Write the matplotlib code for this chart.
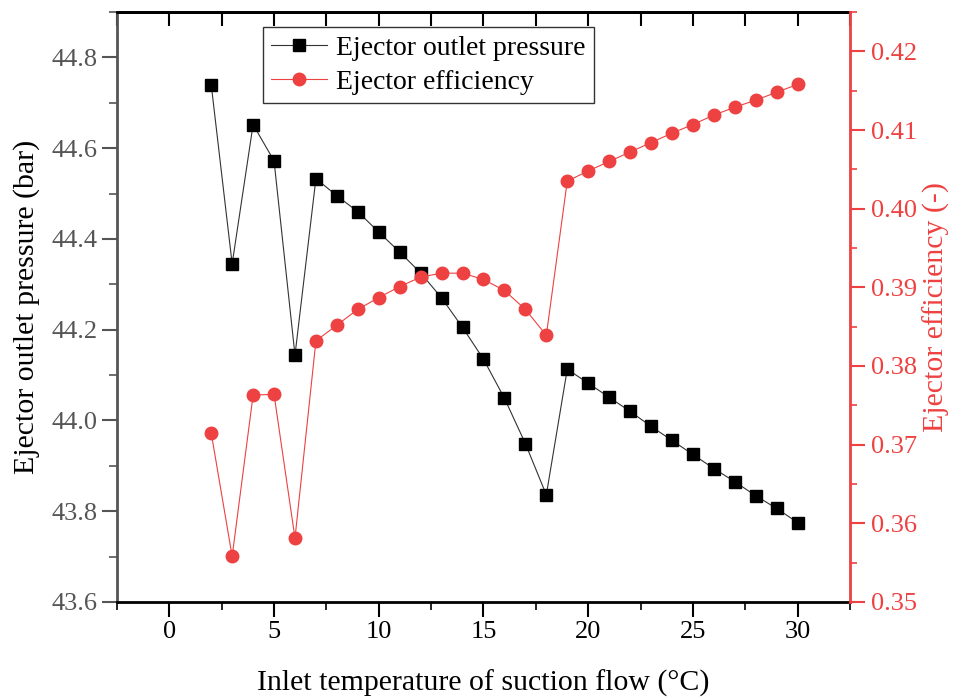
import matplotlib
matplotlib.use("Agg")
import matplotlib.pyplot as plt
from matplotlib.ticker import MultipleLocator, FormatStrFormatter, NullFormatter

plt.rcParams['font.family'] = ['Liberation Serif', 'DejaVu Serif']

temperature = [2, 3, 4, 5, 6, 7, 8, 9, 10, 11, 12, 13, 14, 15, 16,
               17, 18, 19, 20, 21, 22, 23, 24, 25, 26, 27, 28, 29, 30]
outlet_pressure = [44.740, 44.345, 44.652, 44.572, 44.144, 44.533, 44.495,
                   44.460, 44.415, 44.371, 44.325, 44.270, 44.205, 44.135,
                   44.049, 43.949, 43.836, 44.113, 44.082, 44.051, 44.020,
                   43.987, 43.956, 43.925, 43.894, 43.865, 43.834, 43.806,
                   43.775]
efficiency = [0.3715, 0.3558, 0.3763, 0.3764, 0.3581, 0.3832, 0.3852,
              0.3872, 0.3887, 0.3901, 0.3913, 0.3918, 0.3918, 0.3910,
              0.3896, 0.3872, 0.3839, 0.4035, 0.4048, 0.4060, 0.4072,
              0.4084, 0.4096, 0.4107, 0.4119, 0.4129, 0.4138, 0.4148,
              0.4158]

red = '#ee4141'
gray = '#555555'

fig = plt.figure(figsize=(9.54, 6.99), dpi=100)
ax = fig.add_axes([0.1226, 0.1388, 0.7684, 0.8440])
ax2 = ax.twinx()

l1, = ax.plot(temperature, outlet_pressure, color='#333333', lw=0.8,
              marker='s', markersize=8, markerfacecolor='black',
              markeredgecolor='black', label='Ejector outlet pressure')
l2, = ax2.plot(temperature, efficiency, color=red, lw=0.8,
               marker='o', markersize=9, markerfacecolor=red,
               markeredgecolor=red, label='Ejector efficiency')

ax.set_xlim(-2.5, 32.5)
ax.set_ylim(43.6, 44.9)
ax2.set_ylim(0.35, 0.425)

ax.xaxis.set_major_locator(MultipleLocator(5))
ax.xaxis.set_minor_locator(MultipleLocator(2.5))
ax.yaxis.set_major_locator(MultipleLocator(0.2))
ax.yaxis.set_minor_locator(MultipleLocator(0.1))
ax.yaxis.set_major_formatter(FormatStrFormatter('%.1f'))
ax2.yaxis.set_major_locator(MultipleLocator(0.01))
ax2.yaxis.set_minor_locator(MultipleLocator(0.005))
ax2.yaxis.set_major_formatter(FormatStrFormatter('%.2f'))

ax.tick_params(axis='x', which='both', direction='out', top=False,
               labelsize=19, colors='black', pad=3)
ax.tick_params(axis='x', which='major', length=11, width=1.5)
ax.tick_params(axis='x', which='minor', length=6, width=1.2)
ax.tick_params(axis='y', which='both', direction='out', labelsize=19,
               colors=gray, pad=3)
ax.tick_params(axis='y', which='major', length=11, width=1.5)
ax.tick_params(axis='y', which='minor', length=6, width=1.2)
ax2.tick_params(axis='y', which='both', direction='out', labelsize=19,
                colors=red, pad=4)
ax2.tick_params(axis='y', which='major', length=11, width=1.5)
ax2.tick_params(axis='y', which='minor', length=5, width=1.2)

# inward ticks along the top edge, no labels
top = ax.secondary_xaxis('top')
top.xaxis.set_major_locator(MultipleLocator(5))
top.xaxis.set_minor_locator(MultipleLocator(2.5))
top.xaxis.set_major_formatter(NullFormatter())
top.tick_params(axis='x', which='both', direction='in', length=10,
                width=1.5, colors='black')
top.spines['top'].set_linewidth(2.0)

for side in ['top', 'bottom']:
    ax.spines[side].set_linewidth(2.0)
    ax.spines[side].set_color('black')
ax.spines['left'].set_linewidth(2.0)
ax.spines['left'].set_color(gray)
ax2.spines['right'].set_linewidth(2.0)
ax2.spines['right'].set_color(red)
ax2.spines['left'].set_visible(False)
ax2.spines['top'].set_visible(False)
ax2.spines['bottom'].set_visible(False)

ax.set_xlabel('Inlet temperature of suction flow (°C)', fontsize=21.5,
              labelpad=19)
ax.set_ylabel('Ejector outlet pressure (bar)', fontsize=21.5, labelpad=8)
ax2.set_ylabel('Ejector efficiency (-)', fontsize=21.5, color=red,
               labelpad=4)

leg = ax.legend(handles=[l1, l2], loc='upper left',
                bbox_to_anchor=(0.199, 0.974), fontsize=20, frameon=True,
                fancybox=False, edgecolor='#333333', framealpha=1,
                borderpad=0.3, handlelength=2.0, handletextpad=0.35,
                labelspacing=0.3, borderaxespad=0)
leg.get_frame().set_linewidth(1.0)

fig.savefig('out.png', dpi=100)
